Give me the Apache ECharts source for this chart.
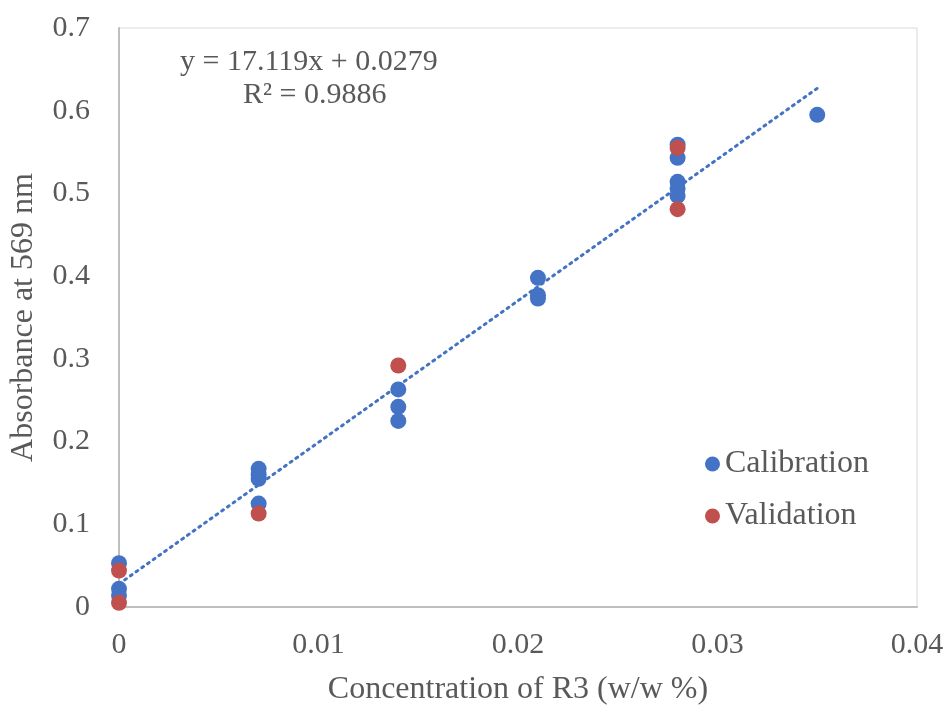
<!DOCTYPE html>
<html><head><meta charset="utf-8">
<script src="https://cdn.jsdelivr.net/npm/echarts@6/dist/echarts.min.js"></script>
<style>html,body{margin:0;padding:0;background:#fff}#c{width:947px;height:711px}</style>
</head><body><div id="c"></div>
<script>
const calibration = [
  [0, 0.053], [0, 0.022], [0, 0.014],
  [0.007, 0.167], [0.007, 0.160], [0.007, 0.155], [0.007, 0.125],
  [0.014, 0.263], [0.014, 0.242], [0.014, 0.225],
  [0.021, 0.398], [0.021, 0.377], [0.021, 0.373],
  [0.028, 0.559], [0.028, 0.543], [0.028, 0.514], [0.028, 0.506], [0.028, 0.497],
  [0.035, 0.595]
];
const validation = [
  [0, 0.044], [0, 0.005],
  [0.007, 0.113],
  [0.014, 0.292],
  [0.028, 0.555], [0.028, 0.481]
];
const slope = 17.119, intercept = 0.0279;
const trendX = [0, 0.035];
const xTicks = [0, 0.01, 0.02, 0.03, 0.04];
const yTicks = [0, 0.1, 0.2, 0.3, 0.4, 0.5, 0.6, 0.7];

const trend = trendX.map(x => [x, slope * x + intercept]);
const font = '"Liberation Serif", "Times New Roman", serif';
const gray = '#595959';
const chart = echarts.init(document.getElementById('c'));
chart.setOption({
  animation: false,
  backgroundColor: '#fff',
  grid: {left: 117, right: 30, top: 28, bottom: 99, show: true, borderColor: '#d9d9d9', borderWidth: 1},
  xAxis: {
    type: 'value', min: 0, max: 0.04, interval: 0.01,
    name: 'Concentration of R3 (w/w %)', nameLocation: 'middle', nameGap: 67,
    nameTextStyle: {fontFamily: font, fontSize: 32, color: gray},
    axisLine: {show: true, lineStyle: {color: '#bfbfbf', width: 2}},
    axisTick: {show: false},
    splitLine: {show: false},
    axisLabel: {fontFamily: font, fontSize: 30, color: gray, margin: 23,
      formatter: v => String(Math.round(v * 100) / 100)}
  },
  yAxis: {
    type: 'value', min: 0, max: 0.7, interval: 0.1,
    name: 'Absorbance at 569 nm', nameLocation: 'middle', nameGap: 79,
    nameTextStyle: {fontFamily: font, fontSize: 32, color: gray},
    axisLine: {show: true, lineStyle: {color: '#bfbfbf', width: 2}},
    axisTick: {show: false},
    splitLine: {show: false},
    axisLabel: {fontFamily: font, fontSize: 30, color: gray, margin: 29,
      formatter: v => String(Math.round(v * 10) / 10)}
  },
  legend: {
    orient: 'vertical', left: 700, top: 443, itemGap: 20,
    icon: 'circle', itemWidth: 15, itemHeight: 15,
    textStyle: {fontFamily: font, fontSize: 32, color: gray},
    data: ['Calibration', 'Validation']
  },
  graphic: [
    {type: 'text', left: 180, top: 47, style: {text: 'y = 17.119x + 0.0279', font: '30px ' + font, fill: gray}},
    {type: 'text', left: 243, top: 80, style: {text: 'R² = 0.9886', font: '30px ' + font, fill: gray}}
  ],
  series: [
    {name: 'trend', type: 'line', data: trend, symbol: 'none', silent: true,
      lineStyle: {color: '#4472C4', width: 3, type: [2, 5], cap: 'round'}, z: 1},
    {name: 'Calibration', type: 'scatter', data: calibration, symbolSize: 16,
      itemStyle: {color: '#4472C4', opacity: 1}, z: 2},
    {name: 'Validation', type: 'scatter', data: validation, symbolSize: 16,
      itemStyle: {color: '#C0504D', opacity: 1}, z: 3}
  ]
});
</script></body></html>
